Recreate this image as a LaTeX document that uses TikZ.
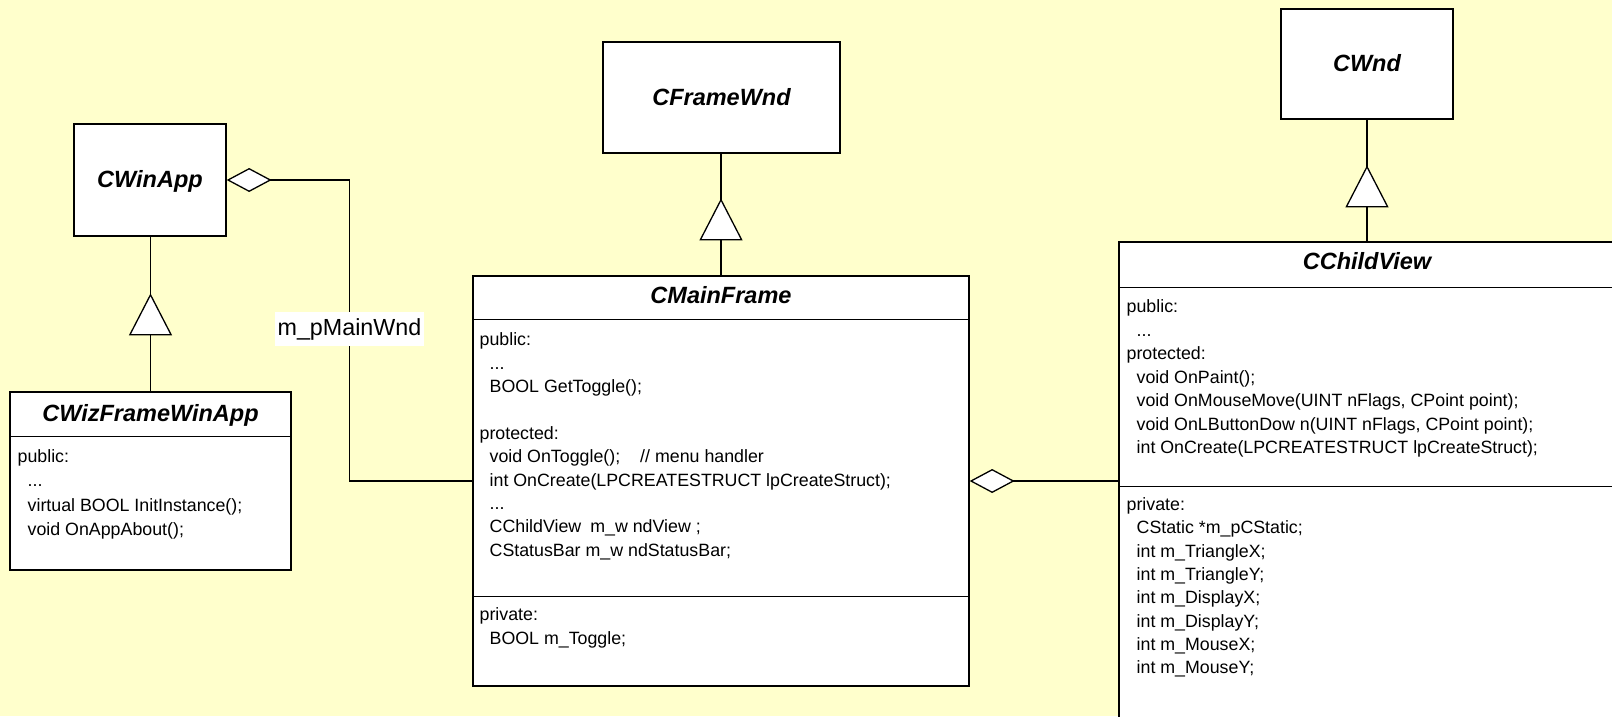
\documentclass[tikz,border=0pt]{standalone}
\usepackage{fontspec}
\setmainfont{Liberation Sans}
\usetikzlibrary{arrows.meta,decorations.markings}
\definecolor{bgyellow}{HTML}{FFFFCC}
\newcommand\clsind{\hspace*{10pt}}
\begin{document}
\begin{tikzpicture}[x=1pt,y=-1pt, line width=1.3pt,
  box/.style={draw=black, fill=white, inner sep=0pt},
  title/.style={anchor=base, inner sep=0pt, font=\fontsize{23.5}{28}\selectfont\bfseries\itshape},
  body/.style={anchor=north west, inner sep=0pt, align=left},
  inherit/.style={postaction={decorate,decoration={markings,mark=at position #1 with {\arrow{Triangle[length=42pt,width=43pt,fill=white]}}}}},
  agg/.style={{Diamond[length=45pt,width=24pt,fill=white]}-}
]
\useasboundingbox (0,0) rectangle (1612,716);
\fill[bgyellow] (0,0) rectangle (1612,716);
\clip (0,0) rectangle (1612,716);

% simple boxes
\node[box, minimum width=152pt, minimum height=112pt] (winapp) at (150,180) {};
\node[title] (winappT) at (150,187) {CWinApp};
\node[box, minimum width=237pt, minimum height=111pt] (fw) at (721.5,97.5) {};
\node[title] (fwT) at (721.5,105) {CFrameWnd};
\node[box, minimum width=172pt, minimum height=110pt] (cwnd) at (1367,64) {};
\node[title] (cwndT) at (1367,71) {CWnd};

% CWizFrameWinApp
\node[box, minimum width=281pt, minimum height=178pt] (wiz) at (150.5,481) {};
\draw (wiz.north west) ++(0,45) -- ++(281,0);
\node[title] (wizT) at (150.5,421) {CWizFrameWinApp};
\node[body, font=\fontsize{17.8}{24.3}\selectfont] (wizB) at (17,445) {\strut public:\\
\clsind ...\\
\clsind virtual BOOL InitInstance();\\
\clsind void OnAppAbout();};

% CMainFrame
\node[box, minimum width=496pt, minimum height=410pt] (mf) at (721,481) {};
\draw (mf.north west) ++(0,44) -- ++(496,0);
\draw (mf.north west) ++(0,321) -- ++(496,0);
\node[title] (mfT) at (721,303) {CMainFrame};
\node[body, font=\fontsize{17.8}{23.4}\selectfont] (mfB1) at (479,328.6) {\strut public:\\
\clsind ...\\
\clsind BOOL GetToggle();\\
\mbox{}\\
protected:\\
\clsind void OnToggle();\hspace{20pt}// menu handler\\
\clsind int OnCreate(LPCREATESTRUCT lpCreateStruct);\\
\clsind ...\\
\clsind CChildView\hspace{9pt}m\_w ndView ;\\
\clsind CStatusBar m\_w ndStatusBar;};
\node[body, font=\fontsize{17.8}{23.4}\selectfont] (mfB2) at (479,603.6) {\strut private:\\
\clsind BOOL m\_Toggle;};

% CChildView
\node[box, minimum width=496pt, minimum height=518pt] (cv) at (1367,501) {};
\draw (cv.north west) ++(0,46) -- ++(496,0);
\draw (cv.north west) ++(0,245) -- ++(496,0);
\node[title] (cvT) at (1367,269) {CChildView};
\node[body, font=\fontsize{17.8}{23.5}\selectfont] (cvB1) at (1126,295.5) {\strut public:\\
\clsind ...\\
protected:\\
\clsind void OnPaint();\\
\clsind void OnMouseMove(UINT nFlags, CPoint point);\\
\clsind void OnLButtonDow n(UINT nFlags, CPoint point);\\
\clsind int OnCreate(LPCREATESTRUCT lpCreateStruct);};
\node[body, font=\fontsize{17.8}{23.3}\selectfont] (cvB2) at (1126,493.7) {\strut private:\\
\clsind CStatic *m\_pCStatic;\\
\clsind int m\_TriangleX;\\
\clsind int m\_TriangleY;\\
\clsind int m\_DisplayX;\\
\clsind int m\_DisplayY;\\
\clsind int m\_MouseX;\\
\clsind int m\_MouseY;};

% inheritance
\draw[inherit=98pt] (wiz.north) -- (wiz.north |- winapp.south);
\draw[inherit=77pt] (mf.north) -- (mf.north |- fw.south);
\draw[inherit=76pt] (cv.north) -- (cv.north |- cwnd.south);

% aggregations
\draw[agg] (winapp.east) -- ++(123,0) coordinate (bend) |- (mf.west);
\node[fill=white, inner sep=0pt, minimum width=149pt, minimum height=34pt, font=\fontsize{23.3}{28}\selectfont] (lbl) at (349.5,329) {m\_pMainWnd};
\draw[agg] (mf.east) -- (mf.east -| cv.west);
\end{tikzpicture}
\end{document}
